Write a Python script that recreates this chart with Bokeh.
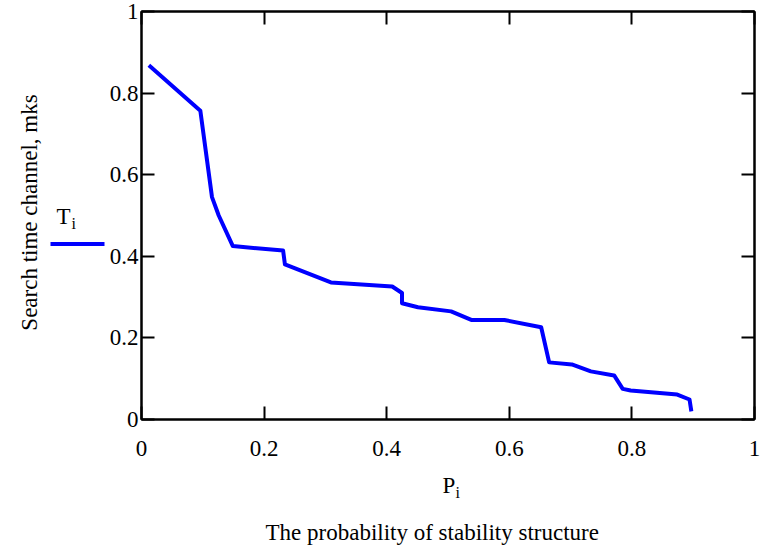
from bokeh.plotting import figure
from bokeh.models import LinearAxis, FixedTicker, Range1d
from bokeh.layouts import row, column
from bokeh.core.properties import value
from bokeh.embed import file_html
from bokeh.resources import INLINE
import math

# ---- data ----
P_values = [0.012, 0.096, 0.115, 0.126, 0.149, 0.231, 0.234, 0.309, 0.409, 0.425,
            0.425, 0.451, 0.505, 0.538, 0.592, 0.652, 0.665, 0.702, 0.733, 0.771,
            0.785, 0.798, 0.874, 0.894, 0.897]
T_values = [0.868, 0.757, 0.545, 0.500, 0.425, 0.414, 0.380, 0.336, 0.326, 0.310,
            0.285, 0.275, 0.265, 0.244, 0.244, 0.226, 0.140, 0.135, 0.118, 0.108,
            0.075, 0.071, 0.061, 0.049, 0.020]
x_ticks = [0, 0.2, 0.4, 0.6, 0.8, 1]
x_tick_labels = ["0", "0.2", "0.4", "0.6", "0.8", "1"]
y_ticks = [0, 0.2, 0.4, 0.6, 0.8, 1]
y_tick_labels = ["0", "0.2", "0.4", "0.6", "0.8", "1"]
series_name, series_sub = "T", "i"
x_name, x_sub = "P", "i"
x_title = "The probability of stability structure"
y_title = "Search time channel, mks"

# ---- layout (picture pixels) ----
W, H = 763, 548
LEFT_W = 106          # width of the left text strip
MAIN_H = 470          # height of the row holding the plot
NUDGE = 7             # text glyphs sit this much below their anchor
FL, FR, FT, FB = 139, 754, 11, 419
FONT = "Liberation Serif"
BLUE = "#0000FF"


def dy(py):
    # picture y -> value on the plot's vertical scale
    return (FB - py) / (FB - FT)


def blank(width, height, xr, yr):
    f = figure(width=width, height=height, output_backend="svg", toolbar_location=None,
               x_range=Range1d(*xr), y_range=yr,
               x_axis_location=None, y_axis_location=None,
               min_border_left=0, min_border_right=0, min_border_top=0, min_border_bottom=0)
    f.grid.visible = False
    f.outline_line_color = None
    return f


# ---- main plot ----
p = figure(width=W - LEFT_W, height=MAIN_H, output_backend="svg", toolbar_location=None,
           x_range=Range1d(0, 1), y_range=Range1d(0, 1),
           min_border_left=FL - LEFT_W, min_border_top=FT,
           min_border_right=W - FR, min_border_bottom=MAIN_H - FB)
p.grid.visible = False
p.outline_line_color = "black"
p.outline_line_width = 2

xa = p.below[0]
ya = p.left[0]
top_ax = LinearAxis()
right_ax = LinearAxis()
p.add_layout(top_ax, "above")
p.add_layout(right_ax, "right")

for ax in (xa, ya, top_ax, right_ax):
    ax.major_tick_in = 13
    ax.major_tick_out = 0
    ax.minor_tick_line_color = None
    ax.major_tick_line_width = 2
    ax.major_tick_line_color = "black"
    ax.axis_line_width = 2
    ax.axis_line_color = "black"
    ax.major_label_text_font = FONT
    ax.major_label_text_color = "black"

for ax in (top_ax, right_ax):
    ax.ticker = FixedTicker(ticks=x_ticks)
    ax.major_label_text_font_size = "0px"
    ax.major_label_text_color = None
    ax.major_label_standoff = 0

xa.ticker = FixedTicker(ticks=x_ticks)
xa.major_label_overrides = {t: s for t, s in zip(x_ticks, x_tick_labels)}
xa.major_label_text_font_size = "23px"
xa.major_label_standoff = 21

ya.ticker = FixedTicker(ticks=y_ticks)
ya.major_label_overrides = {t: s for t, s in zip(y_ticks, y_tick_labels)}
ya.major_label_text_font_size = "23px"
ya.major_label_standoff = 3

p.line(P_values, T_values, line_color=BLUE, line_width=4, line_join="round")

# ---- left strip: y title and legend (shares the plot's vertical scale) ----
lf = blank(LEFT_W, MAIN_H, (0, LEFT_W), Range1d(0, 1))
lf.text(x=[36 - NUDGE], y=[dy(212)], text=[y_title], angle=math.pi / 2,
        text_align="center", text_baseline="alphabetic", text_font=value(FONT),
        text_font_size="23px", text_color="black")
lf.text(x=[56], y=[dy(223 - NUDGE)], text=[series_name], text_align="left",
        text_baseline="alphabetic", text_font=value(FONT), text_font_size="23px",
        text_color="black")
lf.text(x=[71], y=[dy(230 - NUDGE)], text=[series_sub], text_align="left",
        text_baseline="alphabetic", text_font=value(FONT), text_font_size="16px",
        text_color="black")
lf.segment(x0=[50], y0=[dy(243.5)], x1=[104], y1=[dy(243.5)], line_color=BLUE,
           line_width=4)

# ---- bottom strip: axis name and caption ----
BH = H - MAIN_H
top_y = MAIN_H + NUDGE
bf = blank(W, BH, (0, W), Range1d(top_y + BH, top_y))
bf.text(x=[442], y=[492], text=[x_name], text_align="left",
        text_baseline="alphabetic", text_font=value(FONT), text_font_size="23px",
        text_color="black")
bf.text(x=[455], y=[499], text=[x_sub], text_align="left",
        text_baseline="alphabetic", text_font=value(FONT), text_font_size="16px",
        text_color="black")
bf.text(x=[265], y=[539], text=[x_title], text_align="left",
        text_baseline="alphabetic", text_font=value(FONT), text_font_size="23px",
        text_color="black")

layout = column(row(lf, p, spacing=0), bf, spacing=0)
open("out.html", "w").write(file_html(layout, INLINE))
